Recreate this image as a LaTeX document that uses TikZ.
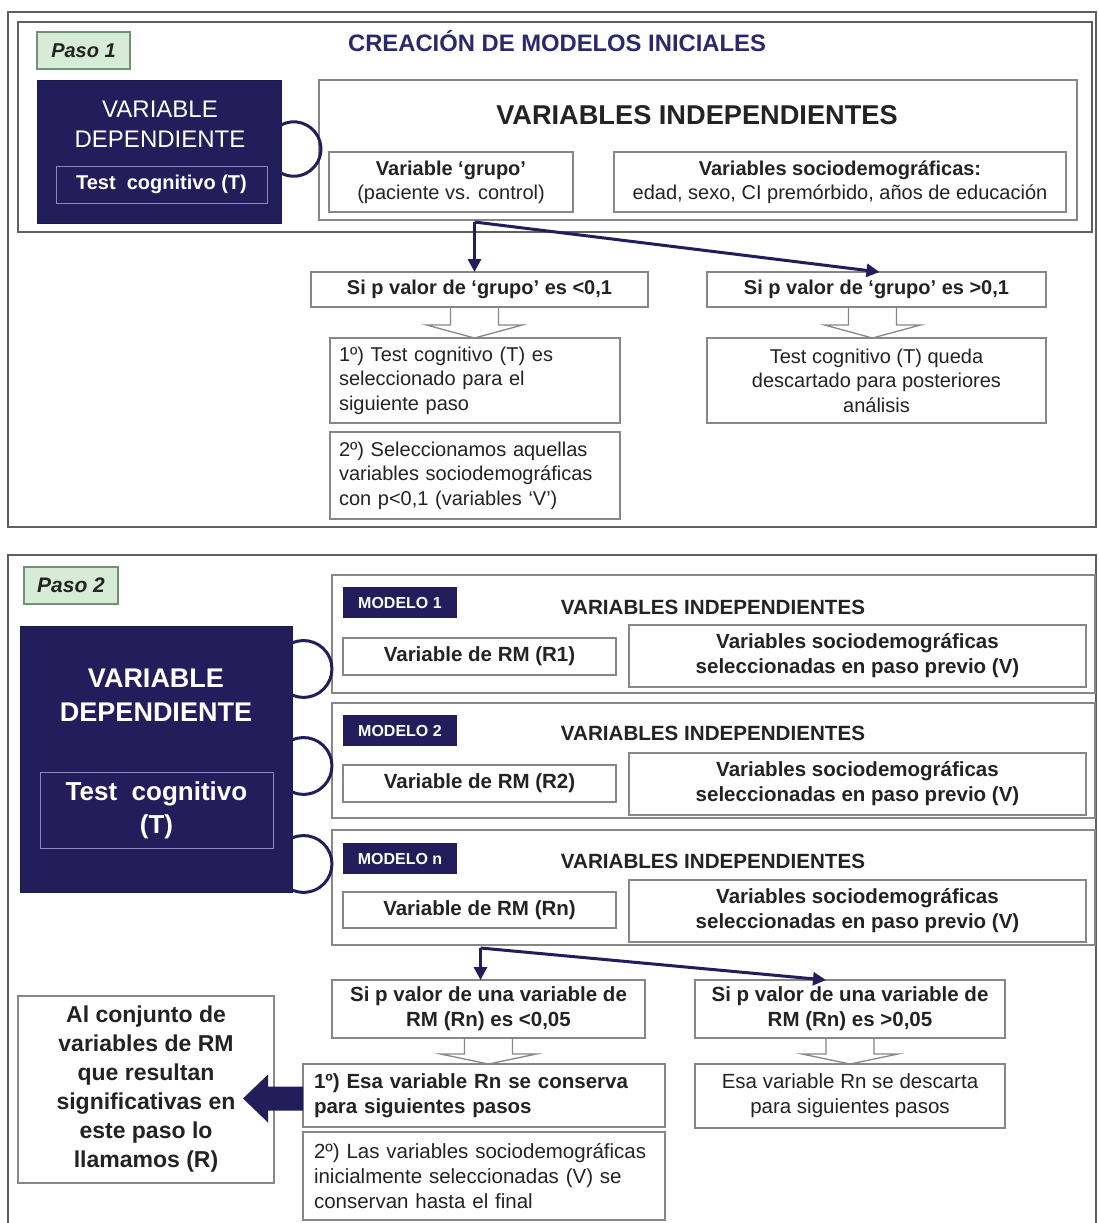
\documentclass[tikz,border=0pt]{standalone}
\usepackage{fontspec}
\setmainfont{Liberation Sans}
\usetikzlibrary{arrows.meta,calc}
\definecolor{navy}{RGB}{36,29,92}
\definecolor{titlecol}{RGB}{44,40,108}
\definecolor{boxgray}{RGB}{135,135,135}
\definecolor{framegray}{RGB}{95,95,95}
\definecolor{pasofill}{RGB}{214,236,214}
\definecolor{pasodraw}{RGB}{115,145,115}
\definecolor{txt}{RGB}{35,35,35}
\definecolor{innerline}{RGB}{140,135,190}
\newcommand{\myfs}[2]{\fontsize{#1}{#2}\selectfont}
\begin{document}
\begin{tikzpicture}[x=1pt,y=-1pt,
 every node/.style={inner sep=0pt, outer sep=0pt},
 frame/.style={draw=framegray, line width=1.6pt, anchor=north west},
 box/.style={draw=boxgray, line width=1.3pt, fill=white, anchor=north west, text=txt, align=center},
 lbox/.style={box, align=left},
 pasobox/.style={draw=pasodraw, line width=1.3pt, fill=pasofill, anchor=north west, text=txt},
 darkbox/.style={fill=navy, draw=navy!80!black, line width=1pt, anchor=north west},
 whitetext/.style={text=white, align=center},
 innerbox/.style={draw=innerline, line width=0.8pt, anchor=north west, text=white, align=center},
 modlabel/.style={fill=navy, anchor=north west, text=white, font=\myfs{16}{19}\bfseries},
 heading/.style={anchor=base, text=txt, font=\myfs{20.6}{24}\bfseries},
 conn/.style={draw=navy, line width=3pt},
 flow/.style={draw=navy, line width=3pt, -{Triangle[length=13pt,width=13pt]}},
 hollow/.style={draw=boxgray, line width=1.3pt, line join=miter},
]
\useasboundingbox[fill=white] (0,0) rectangle (1098,1223);

% ---------------- Panel 1 ----------------
\node[frame, minimum width=1088pt, minimum height=515pt] (frame1) at (8,12) {};
\node[frame, minimum width=1074pt, minimum height=210pt] (frame1in) at (18,22) {};
\node[pasobox, minimum width=93pt, minimum height=37pt, font=\myfs{20}{24}\bfseries\itshape] (paso1) at (37,32) {Paso 1};
\node[anchor=base, text=titlecol, font=\myfs{23.8}{28}\bfseries] (title1) at (557,52) {CREACIÓN DE MODELOS INICIALES};

\node[darkbox, minimum width=244pt, minimum height=143pt] (vd1) at (37,80) {};
\node[whitetext, font=\myfs{24}{30}] (vd1t) at (160,124) {VARIABLE\\DEPENDIENTE};
\node[innerbox, minimum width=211pt, minimum height=37pt, font=\myfs{20}{24}\bfseries] (vd1in) at (56,166) {Test~~cognitivo (T)};

\node[box, minimum width=758pt, minimum height=140pt] (vi1) at (319,80) {};
\node[heading, font=\myfs{27.2}{30}\bfseries] (vi1h) at (697,124) {VARIABLES INDEPENDIENTES};
\node[box, minimum width=244pt, minimum height=60pt, font=\myfs{20}{24}] (grupo) at (329,152) {\textbf{Variable ‘grupo’}\\(paciente vs. control)};
\node[box, minimum width=452pt, minimum height=60pt, font=\myfs{20}{24}] (socio) at (614,152) {\textbf{Variables sociodemográficas:}\\edad, sexo, CI premórbido, años de educación};

\draw[conn] ($(vd1.north east)+(0,45)$) arc[start angle=118, end angle=-118, radius=27.2pt];

\node[box, minimum width=337pt, minimum height=35pt, font=\myfs{20}{24}\bfseries] (c1) at (311,272) {Si p valor de ‘grupo’ es <0,1};
\node[box, minimum width=339pt, minimum height=35pt, font=\myfs{20}{24}\bfseries] (c2) at (707,272) {Si p valor de ‘grupo’ es >0,1};

\node[lbox, text width=272pt, inner xsep=9pt, minimum height=85pt, font=\myfs{20}{24.5}] (r1a) at (330,338) {1º) Test cognitivo (T) es\\seleccionado para el\\siguiente paso};
\node[lbox, text width=272pt, inner xsep=9pt, minimum height=87pt, font=\myfs{20}{24.5}] (r1b) at (330,432) {2º) Seleccionamos aquellas\\variables sociodemográficas\\con p<0,1 (variables ‘V’)};
\node[box, minimum width=339pt, minimum height=85pt, font=\myfs{20}{24.5}] (r2) at (707,338) {Test cognitivo (T) queda\\descartado para posteriores\\análisis};

\coordinate (s1) at ($(vi1.south -| c1.north)+(-5,2)$);
\draw[flow] (s1) -- ($(c1.north)+(-5,0)$);
\draw[flow] (s1) -- ($(c2.north)+(3,0)$);

\draw[hollow] ($(c1.south)+(-29,0)$) -- ++(0,18) -- ++(-24,0) -- ($(c1.south |- r1a.north)+(-5,0)$) -- ++(48,-13) -- ++(-24,0) -- ++(0,-18);
\draw[hollow] ($(c2.south)+(-28,0)$) -- ++(0,18) -- ++(-24,0) -- ($(c2.south |- r2.north)+(-4,0)$) -- ++(48,-13) -- ++(-24,0) -- ++(0,-18);

% ---------------- Panel 2 ----------------
\draw[draw=framegray, line width=1.6pt] (8,1224) -- (8,555) -- (1096,555) -- (1096,1224);
\node[pasobox, minimum width=94pt, minimum height=37pt, font=\myfs{21}{24}\bfseries\itshape] (paso2) at (24,567) {Paso 2};

\node[darkbox, minimum width=272pt, minimum height=266pt] (vd2) at (20,626) {};
\node[whitetext, font=\myfs{27}{34}\bfseries] (vd2t) at (156,695) {VARIABLE\\DEPENDIENTE};
\node[innerbox, minimum width=233pt, minimum height=76pt, font=\myfs{26}{33}\bfseries] (vd2in) at (40,772) {Test~~cognitivo\\(T)};

\node[box, minimum width=763pt, minimum height=118pt] (m1) at (332,575) {};
\node[modlabel, minimum width=114pt, minimum height=31pt] (ml1) at (343,587) {MODELO 1};
\node[heading] (vh1) at (713,614) {VARIABLES INDEPENDIENTES};
\node[box, minimum width=273pt, minimum height=37pt, font=\myfs{20.5}{24}\bfseries] (rm1) at (343,638) {Variable de RM (R1)};
\node[box, minimum width=457pt, minimum height=62pt, font=\myfs{20.5}{25}\bfseries] (sv1) at (629,625) {Variables sociodemográficas\\seleccionadas en paso previo (V)};

\node[box, minimum width=763pt, minimum height=115pt] (m2) at (332,703) {};
\node[modlabel, minimum width=114pt, minimum height=31pt] (ml2) at (343,715) {MODELO 2};
\node[heading] (vh2) at (713,740) {VARIABLES INDEPENDIENTES};
\node[box, minimum width=273pt, minimum height=37pt, font=\myfs{20.5}{24}\bfseries] (rm2) at (343,765) {Variable de RM (R2)};
\node[box, minimum width=457pt, minimum height=62pt, font=\myfs{20.5}{25}\bfseries] (sv2) at (629,753) {Variables sociodemográficas\\seleccionadas en paso previo (V)};

\node[box, minimum width=763pt, minimum height=115pt] (m3) at (332,830) {};
\node[modlabel, minimum width=114pt, minimum height=31pt] (ml3) at (343,843) {MODELO n};
\node[heading] (vh3) at (713,868) {VARIABLES INDEPENDIENTES};
\node[box, minimum width=273pt, minimum height=36pt, font=\myfs{20.5}{24}\bfseries] (rm3) at (343,892) {Variable de RM (Rn)};
\node[box, minimum width=457pt, minimum height=62pt, font=\myfs{20.5}{25}\bfseries] (sv3) at (629,880) {Variables sociodemográficas\\seleccionadas en paso previo (V)};

\draw[conn] ($(vd2.north east)+(0,17)$) arc[start angle=114, end angle=-114, radius=28.4pt];
\draw[conn] ($(vd2.north east)+(0,114)$) arc[start angle=114, end angle=-114, radius=28.4pt];
\draw[conn] ($(vd2.north east)+(0,212)$) arc[start angle=114, end angle=-114, radius=28.4pt];

\node[box, minimum width=313pt, minimum height=58pt, font=\myfs{20.5}{25}\bfseries] (d1) at (332,980) {Si p valor de una variable de\\RM (Rn) es <0,05};
\node[box, minimum width=310pt, minimum height=58pt, font=\myfs{20.5}{25}\bfseries] (d2) at (695,980) {Si p valor de una variable de\\RM (Rn) es >0,05};

\node[lbox, text width=340pt, inner xsep=11pt, minimum height=63pt, font=\myfs{20.5}{25}\bfseries] (e1) at (303,1064) {1º) Esa variable Rn se conserva\\para siguientes pasos};
\node[lbox, text width=340pt, inner xsep=11pt, minimum height=88pt, font=\myfs{20.5}{25}] (e2) at (303,1132) {2º) Las variables sociodemográficas\\inicialmente seleccionadas (V) se\\conservan hasta el final};
\node[box, minimum width=310pt, minimum height=64pt, font=\myfs{20.5}{25}] (e3) at (695,1064) {Esa variable Rn se descarta\\para siguientes pasos};

\node[box, minimum width=256pt, minimum height=187pt, font=\myfs{23}{29}\bfseries] (lb) at (18,996) {Al conjunto de\\variables de RM\\que resultan\\significativas en\\este paso lo\\llamamos (R)};

\coordinate (s2) at ($(m3.south -| d1.north)+(-8,3)$);
\draw[flow] (s2) -- (s2 |- d1.north);
\draw[flow] (s2) -- ($(d2.north)+(-24,0)$);

\draw[hollow] ($(d1.south)+(-24,0)$) -- ++(0,16) -- ++(-24,0) -- (d1.south |- e1.north) -- ++(48,-10) -- ++(-24,0) -- ++(0,-16);
\draw[hollow] ($(d2.south)+(-24,0)$) -- ++(0,16) -- ++(-24,0) -- (d2.south |- e3.north) -- ++(48,-10) -- ++(-24,0) -- ++(0,-16);

\coordinate (ba) at ($(e1.west)+(0,3)$);
\fill[navy] ($(ba)+(0,-12)$) -- ++(-35,0) -- ++(0,-12) -- ($(ba)+(-60,0)$) -- ($(ba)+(-35,24)$) -- ++(0,-12) -- ($(ba)+(0,12)$) -- cycle;
\end{tikzpicture}
\end{document}
